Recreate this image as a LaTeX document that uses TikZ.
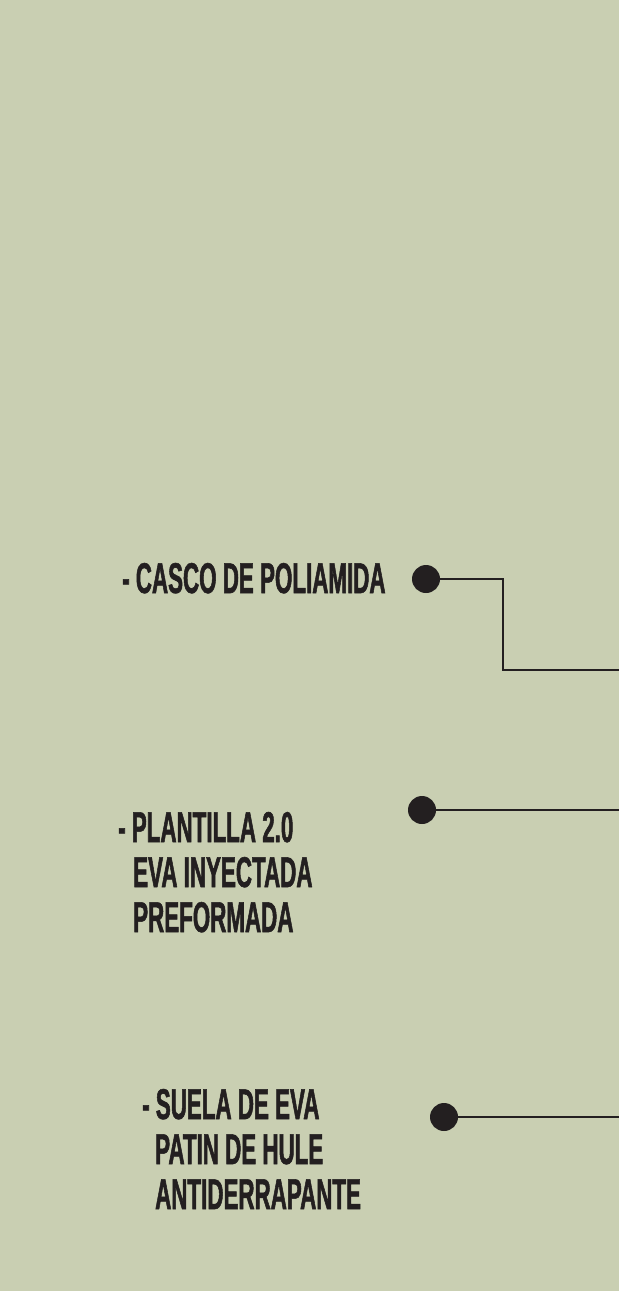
\documentclass[tikz,border=0pt]{standalone}
\usepackage{fontspec}
\newfontfamily\cond{Liberation Sans}[FakeStretch=0.52,FakeBold=1.2]
\definecolor{bg}{RGB}{201,207,178}
\definecolor{ink}{RGB}{35,31,32}
\tikzset{
  lbl/.style={anchor=base west, inner sep=0pt, text=ink, font=\cond\bfseries\fontsize{43}{45}\selectfont},
  dot/.style={circle, fill=ink, inner sep=0pt, minimum size=28pt},
  conn/.style={draw=ink, line width=2.8pt}
}
\begin{document}
\begin{tikzpicture}[x=1pt,y=-1pt]
\fill[bg] (0,0) rectangle (619,1291);
\useasboundingbox (0,0) rectangle (619,1291);
% labels
\node[lbl] (t1) at (122,593) {- CASCO DE POLIAMIDA};
\node[lbl] (t2a) at (118,842) {- PLANTILLA 2.0};
\node[lbl] (t2b) at (133,887) {EVA INYECTADA};
\node[lbl] (t2c) at (133,932) {PREFORMADA};
\node[lbl] (t3a) at (142,1119) {- SUELA DE EVA};
\node[lbl] (t3b) at (155,1164) {PATIN DE HULE};
\node[lbl] (t3c) at (155,1209) {ANTIDERRAPANTE};
% dots
\node[dot] (d1) at (426,579) {};
\node[dot] (d2) at (422,810) {};
\node[dot] (d3) at (444,1117) {};
% line ends
\coordinate (k1) at (503,670);
\coordinate (e1) at (619,670);
\coordinate (e2) at (619,810);
\coordinate (e3) at (619,1117);
\draw[conn] (d1.center) -| (k1) -- (e1);
\draw[conn] (d2.center) -- (e2);
\draw[conn] (d3.center) -- (e3);
\end{tikzpicture}
\end{document}
